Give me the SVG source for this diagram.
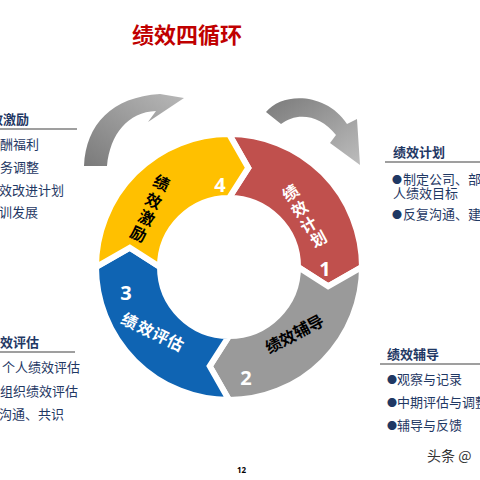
<svg xmlns="http://www.w3.org/2000/svg" width="480" height="480" viewBox="0 0 480 480">
<style>
.seg{stroke:#fff;stroke-width:6;stroke-linejoin:miter}
.st{font-family:"Noto Sans CJK SC","Noto Sans",sans-serif;font-size:16px;font-weight:bold;text-anchor:middle;dominant-baseline:central}
.num{font-family:"Open Sans","Liberation Sans",sans-serif;font-size:20px;font-weight:bold;fill:#fff;text-anchor:middle;dominant-baseline:central}
.h{font-family:"Noto Sans CJK SC",sans-serif;font-size:13px;font-weight:bold;fill:#1F3864}
.i{font-family:"Noto Sans CJK SC",sans-serif;font-size:13px;fill:#1F3864}
.b{font-size:10px}
.ul{stroke:#404040;stroke-width:1.2}
</style>
<defs>
<linearGradient id="gl" x1="0" y1="1" x2="1" y2="0">
<stop offset="0" stop-color="#7a7a7a"/><stop offset="1" stop-color="#b8b8b8"/>
</linearGradient>
<linearGradient id="gr" x1="0" y1="0" x2="1" y2="1">
<stop offset="0" stop-color="#7a7a7a"/><stop offset="1" stop-color="#bdbdbd"/>
</linearGradient>
</defs>
<rect width="480" height="480" fill="#fff"/>
<text x="132" y="43" font-family="Noto Sans CJK SC,sans-serif" font-size="22" font-weight="bold" fill="#C00000">绩效四循环</text>
<g id="connectors">
<path id="arrow-left" d="M84,166 C86,124 112,97 160,94 L184,98 L148,122 L156,111 C128,112 110,134 107,166 Z" fill="url(#gl)"/>
<path id="arrow-right" d="M266,112 C282,92 326,92 347,124 L357,119 L360,165 L330,143 L336,135 C320,114 296,112 281,124 Z" fill="url(#gr)"/>
</g>
<g id="seg-red">
<path class="seg" fill="#C0504D" d="M229,134 A133 133 0 0 1 362,267 L328.14,286.27 L298,267 A69 69 0 0 0 229,198 L248.27,167.86 Z"/>
<g class="st" fill="#fff">
<text transform="translate(290,192) rotate(-34)">绩</text>
<text transform="translate(299,208) rotate(-32)">效</text>
<text transform="translate(308,224) rotate(-30)">计</text>
<text transform="translate(318,238) rotate(-28)">划</text>
</g>
<text class="num" x="325" y="268">1</text>
</g>
<g id="seg-grey">
<path class="seg" fill="#9A9A9A" d="M362,267 A133 133 0 0 1 229,400 L209.73,366.14 L229,336 A69 69 0 0 0 298,267 L328.14,286.27 Z"/>
<g class="st" fill="#000">
<text transform="translate(273,344) rotate(-28)">绩</text>
<text transform="translate(287,337) rotate(-28)">效</text>
<text transform="translate(301,329) rotate(-28)">辅</text>
<text transform="translate(315,322) rotate(-28)">导</text>
</g>
<text class="num" x="246" y="377">2</text>
</g>
<g id="seg-blue">
<path class="seg" fill="#0F64B3" d="M229,400 A133 133 0 0 1 96,267 L129.86,247.73 L160,267 A69 69 0 0 0 229,336 L209.73,366.14 Z"/>
<g class="st" fill="#fff">
<text transform="translate(130,320) rotate(26)">绩</text>
<text transform="translate(146,328) rotate(26)">效</text>
<text transform="translate(161,335) rotate(26)">评</text>
<text transform="translate(176,342) rotate(26)">估</text>
</g>
<text class="num" x="126" y="292">3</text>
</g>
<g id="seg-yellow">
<path class="seg" fill="#FFC000" d="M96,267 A133 133 0 0 1 229,134 L248.27,167.86 L229,198 A69 69 0 0 0 160,267 L129.86,247.73 Z"/>
<g class="st" fill="#000">
<text transform="translate(162,182) rotate(25)">绩</text>
<text transform="translate(154,200) rotate(25)">效</text>
<text transform="translate(147,217) rotate(25)">激</text>
<text transform="translate(139,233) rotate(25)">励</text>
</g>
<text class="num" x="220" y="184">4</text>
</g>
<g id="block-jili">
<text class="h" x="-23" y="124">绩效激励</text>
<line class="ul" x1="0" y1="129" x2="77" y2="129"/>
<text class="i" x="-13" y="149">薪酬福利</text>
<text class="i" x="-13" y="172">职务调整</text>
<text class="i" x="-14" y="195">绩效改进计划</text>
<text class="i" x="-14" y="217">培训发展</text>
</g>
<g id="block-jihua">
<text class="h" x="393" y="157">绩效计划</text>
<line class="ul" x1="385" y1="162" x2="480" y2="162"/>
<text class="i" y="184"><tspan class="b" x="392">●</tspan><tspan x="403">制定公司、部</tspan></text>
<text class="i" x="393" y="198">人绩效目标</text>
<text class="i" y="219"><tspan class="b" x="392">●</tspan><tspan x="403">反复沟通、建</tspan></text>
</g>
<g id="block-pinggu">
<text class="h" x="-13" y="347">绩效评估</text>
<line class="ul" x1="0" y1="352" x2="75" y2="352"/>
<text class="i" x="2" y="372">个人绩效评估</text>
<text class="i" x="0" y="396">组织绩效评估</text>
<text class="i" x="-1" y="419">沟通、共识</text>
</g>
<g id="block-fudao">
<text class="h" x="387" y="359">绩效辅导</text>
<line class="ul" x1="380" y1="364" x2="480" y2="364"/>
<text class="i" y="384"><tspan class="b" x="387">●</tspan><tspan x="397">观察与记录</tspan></text>
<text class="i" y="407"><tspan class="b" x="387">●</tspan><tspan x="397">中期评估与调整</tspan></text>
<text class="i" y="430"><tspan class="b" x="387">●</tspan><tspan x="397">辅导与反馈</tspan></text>
</g>
<text x="237" y="473" font-family="Open Sans,sans-serif" font-size="8" font-weight="bold" fill="#000">12</text>
<text x="427" y="461" font-family="Noto Sans CJK SC,sans-serif" font-size="14" fill="#333">头条 @</text>
</svg>
